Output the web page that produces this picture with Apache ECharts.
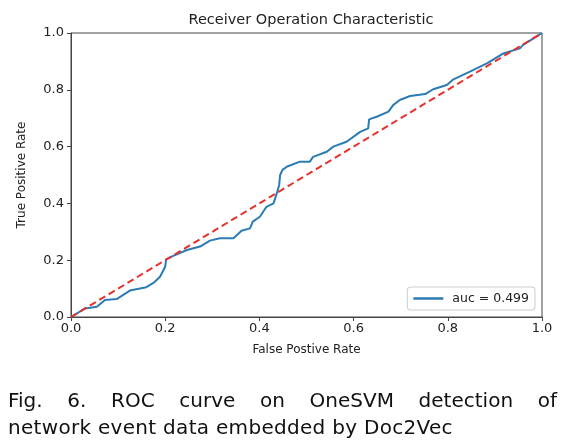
<!DOCTYPE html>
<html>
<head>
<meta charset="utf-8">
<script src="https://cdn.jsdelivr.net/npm/echarts@6/dist/echarts.min.js"></script>
<style>
html,body{margin:0;padding:0;background:#fff;}
#chart{position:absolute;left:0;top:0;width:577px;height:445px;}
.cap{position:absolute;left:8px;width:549px;font-family:"DejaVu Sans",sans-serif;font-size:20px;color:#111;white-space:nowrap;line-height:27px;}
#cap1{top:387px;text-align:justify;text-align-last:justify;white-space:normal;}
#cap2{top:414px;letter-spacing:0.3px;}
</style>
</head>
<body>
<div id="chart"></div>
<div class="cap" id="cap1">Fig. 6. ROC curve on OneSVM detection of</div>
<div class="cap" id="cap2">network event data embedded by Doc2Vec</div>
<script>
const titleText = "Receiver Operation Characteristic";
const xName = "False Postive Rate";
const yName = "True Positive Rate";
const legendLabel = "auc = 0.499";
const tickValues = [0.0, 0.2, 0.4, 0.6, 0.8, 1.0];
const fpr = [0, 0.03, 0.055, 0.072, 0.097, 0.125, 0.16, 0.175, 0.189, 0.2, 0.202, 0.217, 0.246, 0.274, 0.295, 0.316, 0.345, 0.362, 0.38, 0.386, 0.401, 0.415, 0.43, 0.437, 0.442, 0.444, 0.449, 0.458, 0.486, 0.507, 0.514, 0.543, 0.557, 0.585, 0.614, 0.631, 0.633, 0.649, 0.674, 0.684, 0.698, 0.72, 0.752, 0.769, 0.798, 0.812, 0.847, 0.883, 0.918, 0.953, 0.96, 0.982, 1.0];
const tpr = [0, 0.03, 0.036, 0.06, 0.063, 0.093, 0.105, 0.12, 0.142, 0.177, 0.203, 0.215, 0.236, 0.248, 0.269, 0.277, 0.277, 0.304, 0.312, 0.336, 0.353, 0.388, 0.4, 0.436, 0.465, 0.5, 0.518, 0.529, 0.547, 0.547, 0.564, 0.582, 0.6, 0.617, 0.652, 0.664, 0.696, 0.705, 0.723, 0.746, 0.764, 0.778, 0.785, 0.802, 0.817, 0.837, 0.864, 0.893, 0.928, 0.946, 0.958, 0.981, 1.0];
const diagX = [0, 1];
const diagY = [0, 1];

const chart = echarts.init(document.getElementById('chart'));
const font = '"DejaVu Sans", sans-serif';
chart.setOption({
  animation: false,
  backgroundColor: '#fff',
  title: {
    text: titleText, left: 306, top: 8, textAlign: 'center',
    textStyle: {fontFamily: font, fontSize: 14.5, fontWeight: 'normal', color: '#222'}
  },
  grid: {left: 71, top: 33, width: 471, height: 284, show: true, borderColor: '#444', borderWidth: 1, containLabel: false},
  legend: {
    data: [legendLabel], right: 42, bottom: 135, orient: 'horizontal',
    icon: 'rect', itemWidth: 30, itemHeight: 2.5, itemGap: 8,
    padding: [5, 6, 5, 6], borderColor: '#cccccc', borderWidth: 1, borderRadius: 3,
    backgroundColor: '#fff',
    textStyle: {fontFamily: font, fontSize: 12.5, color: '#222', padding: [0, 0, 0, 4]}
  },
  xAxis: {
    type: 'value', min: 0, max: 1, interval: 0.2,
    name: xName, nameLocation: 'middle', nameGap: 27,
    nameTextStyle: {fontFamily: font, fontSize: 12, color: '#222'},
    axisLine: {show: true, lineStyle: {color: '#444', width: 1}},
    axisTick: {show: true, length: 4, lineStyle: {color: '#444'}},
    axisLabel: {fontFamily: font, fontSize: 13, color: '#222', margin: 5, formatter: v => v.toFixed(1)},
    splitLine: {show: false}
  },
  yAxis: {
    type: 'value', min: 0, max: 1, interval: 0.2,
    name: yName, nameLocation: 'middle', nameGap: 43, nameRotate: 90,
    nameTextStyle: {fontFamily: font, fontSize: 12, color: '#222'},
    axisLine: {show: true, lineStyle: {color: '#444', width: 1}},
    axisTick: {show: true, length: 4, lineStyle: {color: '#444'}},
    axisLabel: {fontFamily: font, fontSize: 13, color: '#222', margin: 7, formatter: v => v.toFixed(1)},
    splitLine: {show: false}
  },
  series: [
    {
      name: legendLabel, type: 'line', showSymbol: false, symbol: 'none',
      data: fpr.map((x, i) => [x, tpr[i]]),
      lineStyle: {color: '#2b7bb6', width: 2}, itemStyle: {color: '#2b7bb6'}
    },
    {
      name: 'diag', type: 'line', showSymbol: false, symbol: 'none',
      data: diagX.map((x, i) => [x, diagY[i]]),
      lineStyle: {color: '#e8312c', width: 2, type: [7, 4]}, itemStyle: {color: '#e8312c'}
    }
  ]
});
</script>
</body>
</html>
